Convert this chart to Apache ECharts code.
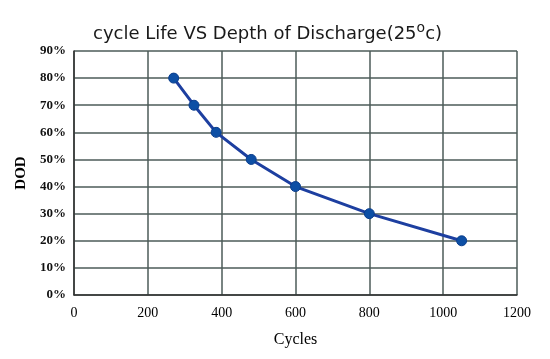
<!DOCTYPE html>
<html><head><meta charset="utf-8">
<script src="https://cdn.jsdelivr.net/npm/echarts@6/dist/echarts.min.js"></script>
<style>html,body{margin:0;padding:0;background:#fff}#c{width:550px;height:359px}</style>
</head><body><div id="c"></div>
<script>
const cycles = [270, 325, 385, 480, 600, 800, 1050];
const dod = [80, 70, 60, 50, 40, 30, 20];
const xTicks = [0, 200, 400, 600, 800, 1000, 1200];
const yTicks = [0, 10, 20, 30, 40, 50, 60, 70, 80, 90];

const chart = echarts.init(document.getElementById('c'), null, {renderer: 'canvas'});
const gridColor = '#4d5b59';
chart.setOption({
  animation: false,
  title: {
    text: '{a|cycle Life VS Depth of Discharge(25}{s|o}{a|c)}',
    left: 88, top: 16,
    textStyle: {
      fontWeight: 'normal',
      rich: {
        a: {fontFamily: 'DejaVu Sans', fontSize: 18, fontWeight: 'normal', color: '#1a1a1a', verticalAlign: 'bottom', lineHeight: 22},
        s: {fontFamily: 'DejaVu Sans', fontSize: 14, fontWeight: 'normal', color: '#1a1a1a', verticalAlign: 'top', lineHeight: 22, padding: [0,0,11,0]}
      }
    }
  },
  grid: {left: 74, right: 33, top: 51, bottom: 64, containLabel: false},
  xAxis: {
    type: 'value', min: 0, max: 1200, interval: 200,
    name: 'Cycles', nameLocation: 'middle', nameGap: 37,
    nameTextStyle: {fontFamily: 'Liberation Serif', fontSize: 16, color: '#000'},
    axisLine: {show: true, lineStyle: {color: '#333', width: 1.5}},
    axisTick: {show: false},
    axisLabel: {fontFamily: 'Liberation Serif', fontSize: 14, color: '#000', margin: 11,
      formatter: v => xTicks.includes(v) ? String(v) : ''},
    splitLine: {show: true, lineStyle: {color: gridColor, width: 1.5}}
  },
  yAxis: {
    type: 'value', min: 0, max: 90, interval: 10,
    name: 'DOD', nameLocation: 'middle', nameGap: 40,
    nameTextStyle: {fontFamily: 'Liberation Serif', fontSize: 15, fontWeight: 'bold', color: '#000'},
    axisLine: {show: true, lineStyle: {color: '#333', width: 1.5}},
    axisTick: {show: false},
    axisLabel: {fontFamily: 'Liberation Sans Narrow, Liberation Serif', fontSize: 13, fontWeight: 'bold', color: '#111', margin: 8,
      formatter: v => yTicks.includes(v) ? v + '%' : ''},
    splitLine: {show: true, lineStyle: {color: gridColor, width: 1.5}}
  },
  series: [{
    type: 'line',
    data: cycles.map((c, i) => [c, dod[i]]),
    symbol: 'circle', symbolSize: 10,
    lineStyle: {color: '#1d3fa0', width: 3},
    itemStyle: {color: '#0d4fa5', borderColor: '#0a3d8c', borderWidth: 1}
  }]
});
</script></body></html>
